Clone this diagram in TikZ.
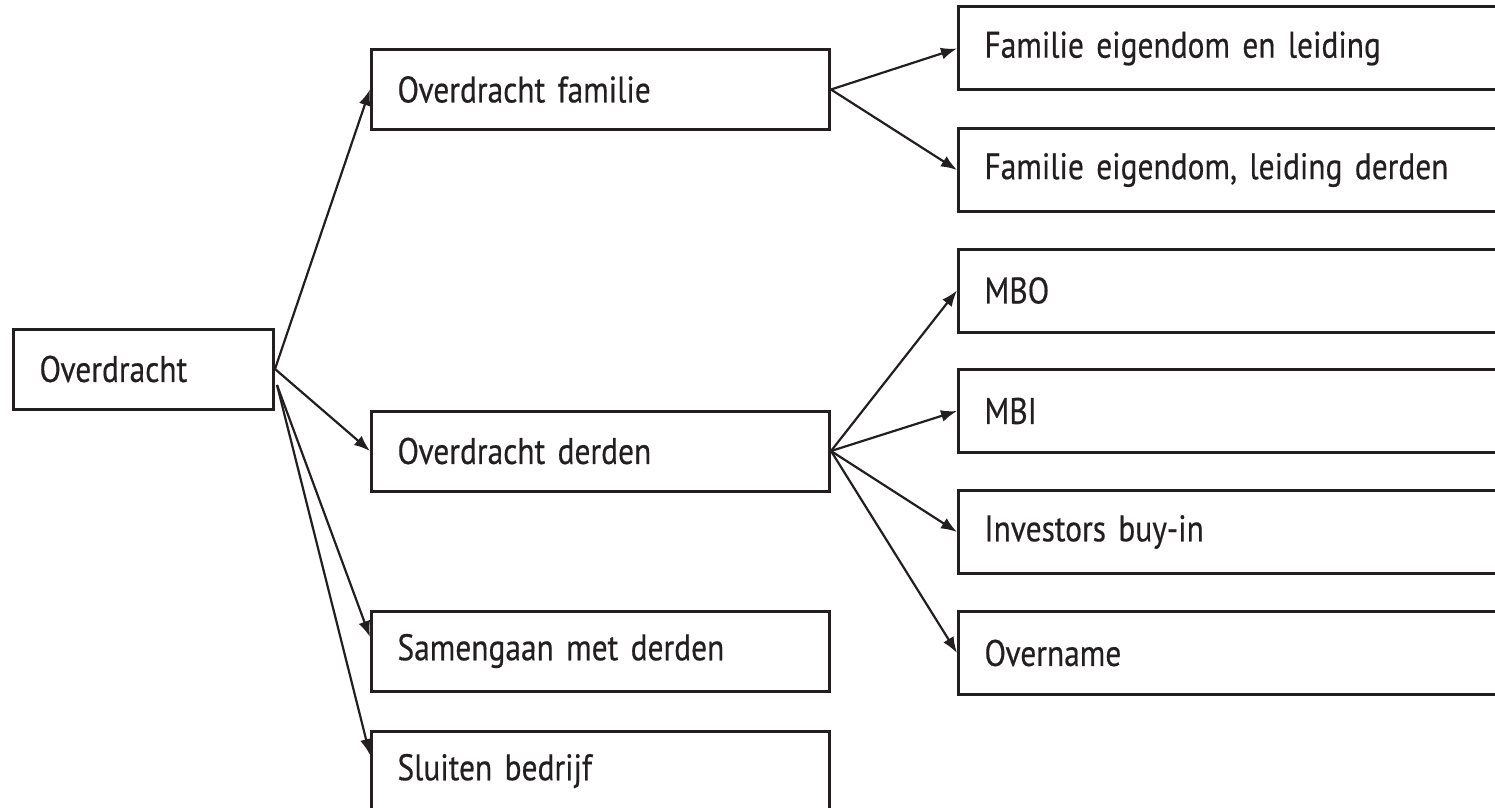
\documentclass[tikz,border=0pt]{standalone}
\usepackage{fontspec}
\setmainfont[FakeStretch=0.85, FakeBold=0.4]{PT Sans}
\usepackage{xcolor}
\usetikzlibrary{arrows.meta, calc}
\definecolor{ink}{RGB}{35,31,32}

\begin{document}
\begin{tikzpicture}[x=0.5pt, y=-0.5pt,
    stage/.style={draw=ink, line width=1.5pt, fill=white, text=ink, anchor=west,
                  font=\fontsize{18.5}{21}\selectfont, align=left,
                  inner xsep=13pt, minimum height=40pt},
    wide/.style={stage, text width=203pt},
    route/.style={stage, text width=258pt, minimum height=41.5pt},
    link/.style={draw=ink, line width=1.1pt, -{Latex[length=8pt, width=6pt]}}
  ]
  \clip (0,0) rectangle (1495,808);

  % --- root ---
  \node[stage, text width=104pt] (over) at (12,369) {Overdracht};

  % --- first level ---
  \foreach \n/\y/\lab in {fam/89.5/Overdracht familie, der/451/Overdracht derden,
                          sam/651/Samengaan met derden, slu/771/Sluiten bedrijf} {
      \node[wide] (\n) at (370,\y) {\lab};
  }

  % --- second level (runs off the right edge) ---
  \foreach \i/\y/\lab in {1/48.5/Familie eigendom en leiding,
                          2/170/{Familie eigendom, leiding derden},
                          3/290.5/MBO, 4/411/MBI, 5/532/Investors buy-in, 6/653/Overname} {
      \node[route] (r\i) at (957,\y) {\lab};
  }

  % arrows
  \coordinate (fork) at ($(over.east)+(2,16)$);
  \draw[link] (over.east) -- (fam.west);
  \draw[link] (over.east) -- (der.west);
  \draw[link] (fork) -- ($(sam.west)+(0,-14)$);
  \draw[link] (fork) -- ($(slu.west)+(0,-16)$);
  \foreach \i in {1,2} \draw[link] (fam.east) -- (r\i.west);
  \foreach \i in {3,...,6} \draw[link] (der.east) -- (r\i.west);
\end{tikzpicture}
\end{document}
